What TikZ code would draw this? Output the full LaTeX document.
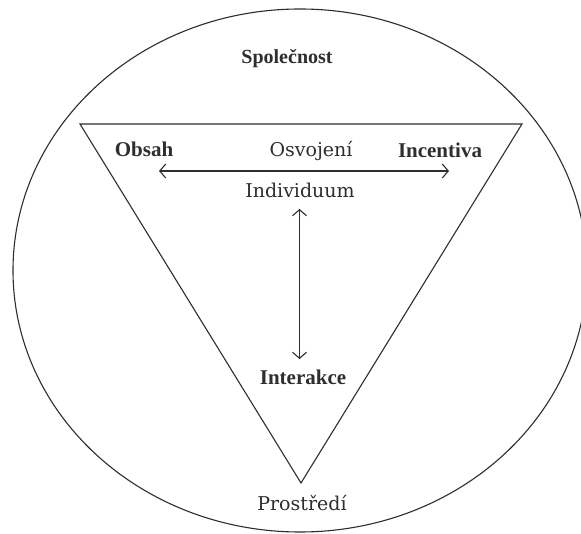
\documentclass[tikz,border=0pt]{standalone}
\usepackage{fontspec}
\setmainfont{Liberation Serif}
\newfontfamily\regfont{DejaVu Serif}
\usetikzlibrary{arrows.meta}
\definecolor{ink}{gray}{0.18}
\begin{document}
\begin{tikzpicture}[x=1pt,y=-1pt,
  line width=1.1pt, draw=ink, text=ink,
  boldlbl/.style={anchor=base,inner sep=0pt,text=ink,font=\fontsize{21}{24}\selectfont\bfseries},
  reglbl/.style={anchor=base,inner sep=0pt,text=ink,font=\fontsize{19}{22}\selectfont\regfont},
  biarrow/.style={draw=ink,line width=1.1pt,{Straight Barb[length=6pt,width=14pt]}-{Straight Barb[length=6pt,width=14pt]}}]
\useasboundingbox (0,0) rectangle (581,534);
\fill[white] (0,0) rectangle (581,534);
\draw[ink] (300,270.5) ellipse [x radius=287, y radius=261.5];
\coordinate (tl) at (80,124);
\coordinate (tr) at (522,124);
\coordinate (bt) at (301,483);
\draw[ink] (tl) -- (tr) -- (bt) -- cycle;
\node[boldlbl,font=\fontsize{20}{24}\selectfont\bfseries] (spol) at (287,64) {Společnost};
\node[boldlbl] (obsah) at (144,157) {Obsah};
\node[reglbl] (osv) at (311,157) {Osvojení};
\node[boldlbl] (inc) at (440,158) {Incentiva};
\node[reglbl] (ind) at (300,198) {Individuum};
\node[boldlbl] (inter) at (303,385) {Interakce};
\node[reglbl] (prost) at (302,510) {Prostředí};
\coordinate (hl) at (159,171);
\coordinate (hr) at (449,171);
\coordinate (vt) at (299.5,209);
\coordinate (vb) at (299.5,359);
\draw[biarrow] (hl) -- (hr);
\draw[biarrow] (vt) -- (vb);
\end{tikzpicture}
\end{document}
